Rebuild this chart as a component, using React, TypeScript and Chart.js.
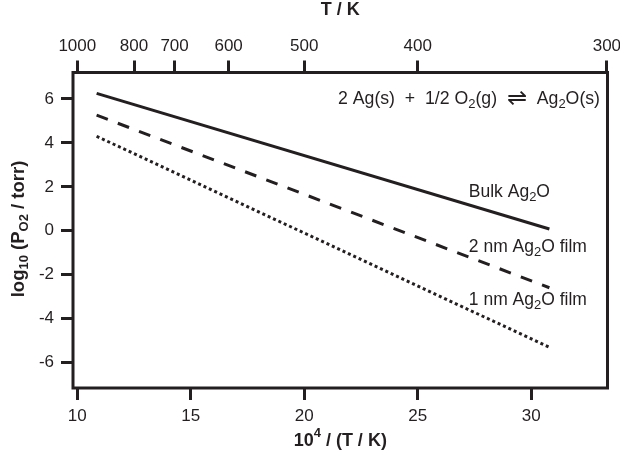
import React, { useEffect, useRef } from "react";
import { Chart, registerables } from "chart.js";

Chart.register(...registerables);

// ---- data ----
const xEnds = [10.85, 30.8]; // 10^4 / (T/K)
const bulkY = [6.25, 0.08];
const film2Y = [5.26, -2.59];
const film1Y = [4.3, -5.3];
const bottomTicks = [10, 15, 20, 25, 30];
const yTicks = [-6, -4, -2, 0, 2, 4, 6];
const topTempTicks = [1000, 800, 700, 600, 500, 400, 300];

const INK = "#231f20";
const FAM = "'Liberation Sans', Arial, Helvetica, sans-serif";

type Seg = { t: string; k?: "sub" | "sup"; s?: number };

function drawRich(
  ctx: CanvasRenderingContext2D,
  segs: Seg[],
  x: number,
  y: number,
  size: number,
  weight: string,
  align: "left" | "center" | "right"
) {
  const fontFor = (s: Seg) =>
    `${weight} ${s.k ? Math.round(size * 0.72) : size * (s.s || 1)}px ${FAM}`;
  let w = 0;
  for (const s of segs) {
    ctx.font = fontFor(s);
    w += ctx.measureText(s.t).width;
  }
  let cx = align === "center" ? x - w / 2 : align === "right" ? x - w : x;
  ctx.textBaseline = "middle";
  ctx.textAlign = "left";
  for (const s of segs) {
    ctx.font = fontFor(s);
    const dy = s.k === "sub" ? size * 0.3 : s.k === "sup" ? -size * 0.42 : 0;
    ctx.fillText(s.t, cx, y + dy);
    cx += ctx.measureText(s.t).width;
  }
}

const decorPlugin = {
  id: "decor",
  afterDraw(chart: any) {
    const { ctx, chartArea: a, scales } = chart;
    const xs = scales.x;
    const ys = scales.y;
    ctx.save();
    ctx.strokeStyle = INK;
    ctx.fillStyle = INK;
    ctx.lineWidth = 3;
    ctx.strokeRect(a.left, a.top, a.right - a.left, a.bottom - a.top);

    // axis titles
    drawRich(ctx, [{ t: "T / K" }], (a.left + a.right) / 2, 10, 18, "bold", "center");
    drawRich(
      ctx,
      [{ t: "10" }, { t: "4", k: "sup" }, { t: " / (T / K)" }],
      (a.left + a.right) / 2,
      441,
      18,
      "bold",
      "center"
    );
    ctx.save();
    ctx.translate(19, 229);
    ctx.rotate(-Math.PI / 2);
    drawRich(
      ctx,
      [{ t: "log" }, { t: "10", k: "sub" }, { t: " (P" }, { t: "O2", k: "sub" }, { t: " / torr)" }],
      0,
      0,
      18.5,
      "bold",
      "center"
    );
    ctx.restore();

    // annotations
    drawRich(
      ctx,
      [
        { t: "2 Ag(s)  +  1/2 O" },
        { t: "2", k: "sub" },
        { t: "(g)  " },
        { t: "\u21CC", s: 1.35 },
        { t: "  Ag" },
        { t: "2", k: "sub" },
        { t: "O(s)" },
      ],
      600,
      ys.getPixelForValue(5.97),
      17.7,
      "normal",
      "right"
    );
    const lx = xs.getPixelForValue(27.25);
    drawRich(ctx, [{ t: "Bulk Ag" }, { t: "2", k: "sub" }, { t: "O" }], lx, ys.getPixelForValue(1.75), 17.5, "normal", "left");
    drawRich(ctx, [{ t: "2 nm Ag" }, { t: "2", k: "sub" }, { t: "O film" }], lx, ys.getPixelForValue(-0.74), 17.5, "normal", "left");
    drawRich(ctx, [{ t: "1 nm Ag" }, { t: "2", k: "sub" }, { t: "O film" }], lx, ys.getPixelForValue(-3.15), 17.5, "normal", "left");
    ctx.restore();
  },
};

const tickFont = { family: FAM, size: 17 };
const gridCfg = {
  display: true,
  drawOnChartArea: false,
  drawTicks: true,
  tickLength: 12,
  tickWidth: 3,
  tickColor: INK,
  color: INK,
};

export default function App() {
  const ref = useRef<HTMLCanvasElement>(null);
  useEffect(() => {
    if (!ref.current) return;
    const pts = (ys: number[]) => xEnds.map((x, i) => ({ x, y: ys[i] }));
    const chart = new Chart(ref.current, {
      type: "line",
      data: {
        datasets: [
          { label: "Bulk Ag2O", data: pts(bulkY), borderColor: INK, borderWidth: 3, pointRadius: 0, borderCapStyle: "butt" },
          { label: "2 nm Ag2O film", data: pts(film2Y), borderColor: INK, borderWidth: 3, pointRadius: 0, borderDash: [12, 10.7], borderCapStyle: "butt" },
          { label: "1 nm Ag2O film", data: pts(film1Y), borderColor: INK, borderWidth: 3, pointRadius: 0, borderDash: [3, 2.9], borderCapStyle: "butt" },
        ],
      },
      options: {
        responsive: false,
        animation: false,
        layout: { padding: { left: 0, right: 12.5, top: 0, bottom: 0 } },
        plugins: { legend: { display: false }, tooltip: { enabled: false } },
        scales: {
          x: {
            type: "linear",
            position: "bottom",
            min: 9.81,
            max: 33.36,
            border: { display: false },
            grid: gridCfg,
            ticks: { font: tickFont, color: INK, padding: 6, maxRotation: 0 },
            afterBuildTicks: (s: any) => {
              s.ticks = bottomTicks.map((v) => ({ value: v }));
            },
            afterFit: (s: any) => {
              s.height = 74;
              s.paddingLeft = 0;
              s.paddingRight = 0;
            },
          },
          x2: {
            type: "linear",
            position: "top",
            min: 9.81,
            max: 33.36,
            border: { display: false },
            grid: gridCfg,
            ticks: {
              font: tickFont,
              color: INK,
              padding: 4,
              maxRotation: 0,
              callback: (v: any) => String(Math.round(1e4 / Number(v))),
            },
            afterBuildTicks: (s: any) => {
              s.ticks = topTempTicks.map((T) => ({ value: 1e4 / T }));
            },
            afterFit: (s: any) => {
              s.height = 72.5;
              s.paddingLeft = 0;
              s.paddingRight = 0;
            },
          },
          y: {
            type: "linear",
            min: -7.15,
            max: 7.2,
            border: { display: false },
            grid: gridCfg,
            ticks: { font: tickFont, color: INK, padding: 7 },
            afterBuildTicks: (s: any) => {
              s.ticks = yTicks.map((v) => ({ value: v }));
            },
            afterFit: (s: any) => {
              s.width = 73;
              s.paddingTop = 0;
              s.paddingBottom = 0;
            },
          },
        },
      },
      plugins: [decorPlugin],
    } as any);
    return () => chart.destroy();
  }, []);
  return (
    <div style={{ position: "absolute", left: 0, top: 0, width: 620, height: 462, background: "#fff" }}>
      <canvas ref={ref} width={620} height={462} style={{ display: "block" }} />
    </div>
  );
}
